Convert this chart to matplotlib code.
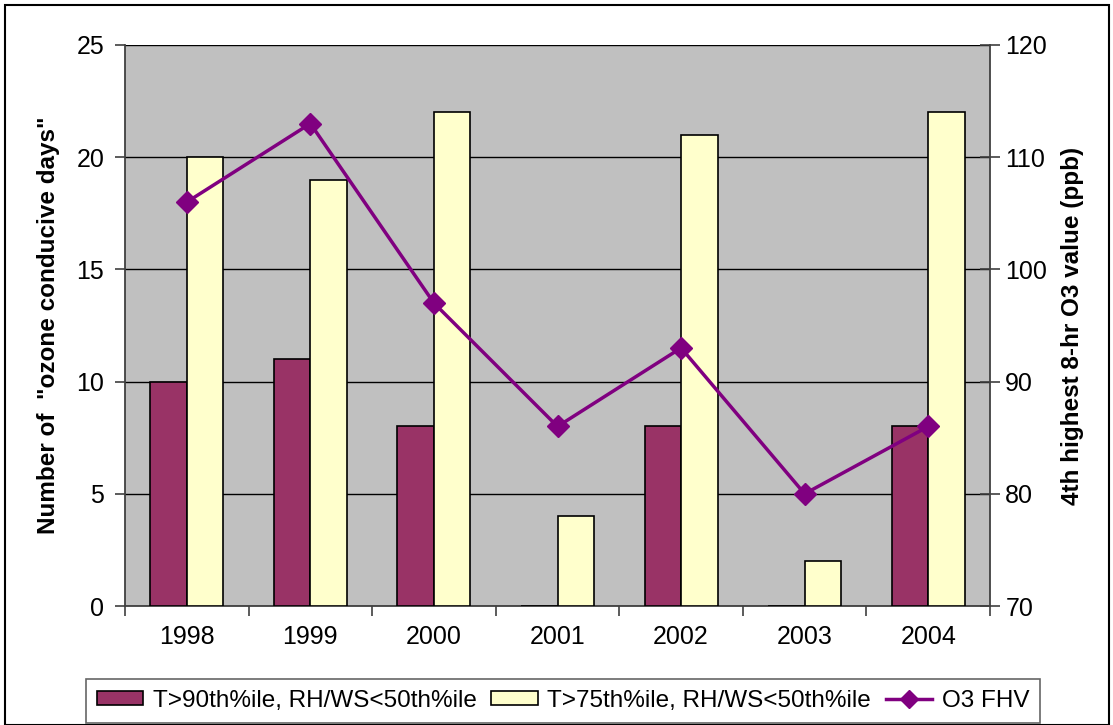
import matplotlib
matplotlib.use("Agg")
import matplotlib.pyplot as plt
import numpy as np
from matplotlib.patches import Rectangle

years = ["1998", "1999", "2000", "2001", "2002", "2003", "2004"]
t90 = [10, 11, 8, 0, 8, 0, 8]
t75 = [20, 19, 22, 4, 21, 2, 22]
o3 = [106, 113, 97, 86, 93, 80, 86]

plt.rcParams['font.family'] = ['Liberation Sans', 'DejaVu Sans']

fig = plt.figure(figsize=(11.13, 7.25), dpi=100)
W, H = 1113, 725
ax = fig.add_axes([125 / W, 1 - 606 / H, (990 - 125) / W, (606 - 45) / H])
ax.set_facecolor('#C0C0C0')

x = np.arange(len(years))
bw = 0.295
ax.bar(x - bw / 2, t90, bw, color='#993366', edgecolor='black', linewidth=1.2, zorder=3,
       label='T>90th%ile, RH/WS<50th%ile')
ax.bar(x + bw / 2, t75, bw, color='#FFFFCC', edgecolor='black', linewidth=1.2, zorder=3,
       label='T>75th%ile, RH/WS<50th%ile')
ax.set_xlim(-0.5, len(years) - 0.5)
ax.set_ylim(0, 25)
ax.set_yticks([0, 5, 10, 15, 20, 25])
ax.yaxis.grid(True, color='black', linewidth=1.0, zorder=1)
ax.set_axisbelow(True)
ax.set_xticks(x)
ax.set_xticklabels(years, fontsize=18)
ax.set_xticks(np.arange(-0.5, len(years)), minor=True)
ax.tick_params(axis='x', which='major', length=0, pad=14)
ax.tick_params(axis='x', which='minor', length=7, width=1.2, color='#404040')
ax.tick_params(axis='y', labelsize=18, length=7, width=1.2, color='#404040', pad=8)
ax.spines['top'].set_visible(False)
ax.spines['left'].set_color('#404040')
ax.spines['left'].set_linewidth(1.3)
ax.spines['bottom'].set_color('#404040')
ax.spines['bottom'].set_linewidth(1.3)
ax.spines['right'].set_visible(False)
ax.set_ylabel('Number of  "ozone conducive days"', fontsize=17.5, fontweight='bold', labelpad=12)

ax2 = ax.twinx()
ax2.plot(x, o3, color='#800080', linewidth=2.5, marker='D', markersize=11, zorder=5,
         label='O3 FHV')
ax2.set_ylim(70, 120)
ax2.set_yticks([70, 80, 90, 100, 110, 120])
ax2.tick_params(axis='y', labelsize=18, direction='inout', length=14, width=1.2, color='#404040', pad=4)
for s in ['top', 'left', 'bottom']:
    ax2.spines[s].set_visible(False)
ax2.spines['right'].set_color('#404040')
ax2.spines['right'].set_linewidth(1.3)
ax2.set_ylabel('4th highest 8-hr O3 value (ppb)', fontsize=17.5, fontweight='bold', labelpad=10)

h1, l1 = ax.get_legend_handles_labels()
h2, l2 = ax2.get_legend_handles_labels()
leg = fig.legend(h1 + h2, l1 + l2, loc='center', bbox_to_anchor=(563 / W, 1 - 701 / H),
                 ncol=3, fontsize=17.5, frameon=True, fancybox=False, edgecolor='#404040',
                 handlelength=1.9, handleheight=0.5, handletextpad=0.4, columnspacing=0.6,
                 borderpad=0.45, markerscale=0.8)
leg.get_frame().set_linewidth(1.2)

fig.patches.append(Rectangle((5 / W, 0), 1104 / W, 1 - 5 / H, transform=fig.transFigure,
                             fill=False, edgecolor='black', linewidth=1.5))

fig.savefig('out.png', dpi=100)
